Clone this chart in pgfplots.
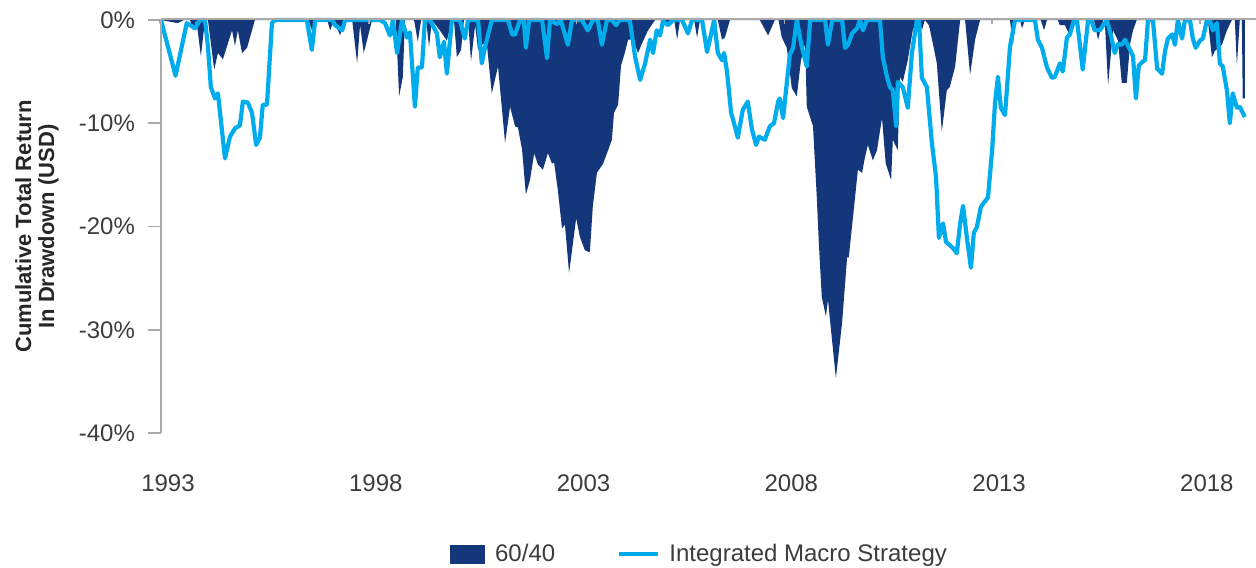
\documentclass[border=0pt]{standalone}
\usepackage{fontspec}
\setmainfont{Liberation Sans}
\usepackage{pgfplots}
\pgfplotsset{compat=1.18}
\definecolor{navy}{RGB}{20,54,122}
\definecolor{sky}{RGB}{0,172,236}
\definecolor{axgray}{RGB}{170,170,170}
\definecolor{txt}{RGB}{60,60,60}

\begin{document}
\begin{tikzpicture}
\path[use as bounding box] (-80.5pt,-67pt) rectangle (547.5pt,216.5pt);
\begin{axis}[
  at={(0pt,0pt)}, anchor=south west,
  scale only axis,
  width=547.5pt, height=206.5pt,
  xmin=1993, xmax=2019.35,
  ymin=-40, ymax=0,
  clip=false,
  axis line style={draw=none},
  xtick={1993,1998,2003,2008,2013,2018},
  xtick style={draw=none},
  ytick={-40,-30,-20,-10,0},
  ytick pos=left,
  tick align=outside,
  major tick length=6.5pt,
  ytick style={axgray, line width=0.8pt},
  /pgf/number format/assume math mode=true,
  /pgf/number format/1000 sep={},
  yticklabel={\pgfmathprintnumber{\tick}\%},
  tick label style={font=\fontsize{12}{14}\selectfont, text=txt},
  xticklabel style={anchor=center, yshift=-18.5pt, xshift=3.5pt},
  yticklabel style={xshift=-3pt},
  ylabel={Cumulative Total Return\\In Drawdown (USD)},
  ylabel style={at={(axis description cs:0,0.5)}, anchor=center, yshift=62pt, align=center, font=\bfseries\fontsize{11}{11.5}\selectfont, text=black!85},
  legend style={at={(0.4927,0)}, anchor=center, yshift=-60.5pt, draw=none, fill=none, font=\fontsize{12}{14}\selectfont, text=txt,
    /tikz/every even column/.append style={column sep=29pt}},
  legend columns=2,
]
\addplot[fill=navy, draw=none,
  legend image code/.code={\fill[navy] (0pt,-4.75pt) rectangle (17.5pt,4.75pt); \path (20.5pt,0pt);}] coordinates {
(1993.00,0) (1993.40,-0.3) (1993.55,0) (1993.70,0) (1993.77,-1.0) (1993.85,0) (1993.96,-3.5) (1994.06,0) (1994.13,0)
(1994.28,-4.8) (1994.37,-3.2) (1994.49,-3.8) (1994.71,-1.0) (1994.78,-2.5) (1994.85,-1.0) (1994.95,-3.2) (1995.07,-2.7) (1995.26,0)
(1996.55,0) (1996.63,-1.0) (1996.71,0) (1997.00,0) (1997.07,-1.0) (1997.16,0) (1997.31,-1.5) (1997.40,0)
(1997.60,0) (1997.72,-4.2) (1997.79,-0.5) (1997.88,-3.2) (1998.08,0) (1998.65,0) (1998.73,-7.4) (1998.82,-5.5) (1998.87,0)
(1999.09,0) (1999.18,-2.1) (1999.26,0) (1999.38,0) (1999.45,-2.6) (1999.52,0) (1999.71,-1.0) (1999.88,-2.0) (2000.00,0) (2000.05,0)
(2000.12,-3.6) (2000.22,-2.9) (2000.29,0) (2000.39,0) (2000.46,-4.0) (2000.56,-0.5) (2000.63,-2.9) (2000.75,-2.3) (2000.84,-2.3)
(2000.96,-7.1) (2001.11,-4.5) (2001.28,-11.9) (2001.40,-8.4) (2001.52,-10.3) (2001.59,-10.4) (2001.69,-12.6) (2001.78,-16.9)
(2001.88,-15.5) (2001.98,-12.9) (2002.07,-14.0) (2002.19,-14.5) (2002.31,-12.9) (2002.41,-13.9) (2002.46,-13.8) (2002.55,-16.5)
(2002.65,-20.2) (2002.72,-19.8) (2002.82,-24.5) (2002.99,-19.2) (2003.08,-21.0) (2003.20,-22.3) (2003.32,-22.5) (2003.39,-18.1)
(2003.49,-14.8) (2003.64,-13.9) (2003.76,-12.6) (2003.85,-11.6) (2003.90,-9.0) (2004.00,-8.2) (2004.07,-4.4) (2004.16,-3.2)
(2004.24,-1.9) (2004.36,-1.9) (2004.48,-3.2) (2004.57,-2.3) (2004.72,-1.0) (2004.89,0) (2005.05,0) (2005.13,-0.5) (2005.25,0)
(2005.35,0) (2005.42,-1.9) (2005.49,0) (2005.83,0) (2005.90,-1.7) (2005.97,0) (2006.40,0) (2006.50,-1.9) (2006.57,-1.7) (2006.69,0)
(2007.41,0) (2007.61,-1.5) (2007.77,0) (2007.86,0) (2007.94,-1.7) (2008.06,-2.7) (2008.18,-6.6) (2008.30,-7.4) (2008.40,-3.9)
(2008.50,-2.3) (2008.54,-8.4) (2008.69,-10.3) (2008.78,-17.1) (2008.83,-21.6) (2008.90,-26.8) (2009.00,-28.7) (2009.05,-27.1)
(2009.24,-34.7) (2009.39,-29.3) (2009.51,-23.0) (2009.55,-23.0) (2009.67,-18.4) (2009.77,-14.5) (2009.87,-14.8) (2009.94,-13.3)
(2010.01,-12.1) (2010.13,-13.6) (2010.23,-12.6) (2010.35,-9.5) (2010.44,-13.9) (2010.57,-15.5) (2010.61,-11.6) (2010.73,-12.6)
(2010.78,-5.5) (2010.85,-6.0) (2010.97,-3.9) (2011.09,-1.0) (2011.19,0) (2011.26,0) (2011.31,-1.0) (2011.38,0) (2011.48,-0.5)
(2011.58,-2.4) (2011.67,-4.2) (2011.79,-10.8) (2011.91,-6.8) (2011.98,-6.5) (2012.11,-4.5) (2012.23,0) (2012.35,0) (2012.47,-5.3)
(2012.59,-1.9) (2012.71,0) (2013.43,0) (2013.50,-2.4) (2013.57,0) (2013.67,0) (2013.72,-0.8) (2013.79,0) (2014.17,0) (2014.25,-1.0)
(2014.32,0) (2014.58,0) (2014.63,-0.5) (2014.75,-0.5) (2014.87,-1.5) (2015.04,0) (2015.45,0) (2015.55,-1.9) (2015.67,0) (2015.71,0)
(2015.79,-6.3) (2015.91,-1.0) (2016.03,-2.0) (2016.12,-6.1) (2016.24,-6.1) (2016.32,-2.3) (2016.39,-1.0) (2016.48,0) (2018.19,0)
(2018.29,-3.6) (2018.36,-3.0) (2018.53,-2.4) (2018.65,-1.0) (2018.77,0) (2018.84,0) (2018.89,-4.4) (2018.96,0) (2019.01,0)
(2019.03,-7.6) (2019.08,-7.6) (2019.08,0)
};
\addlegendentry{60/40}
\addplot[sky, line width=2.1pt, line join=round, mark=none,
  legend image code/.code={\draw[sky, line width=2.1pt] (0pt,0pt) -- (19.5pt,0pt); \path (22pt,0pt);}] coordinates {
(1993.00,0) (1993.35,-5.4) (1993.62,-0.3) (1993.82,-0.8) (1993.94,0) (1994.06,0) (1994.13,-2.6) (1994.20,-6.5) (1994.30,-7.6)
(1994.37,-7.1) (1994.54,-13.4) (1994.66,-11.3) (1994.78,-10.5) (1994.90,-10.2) (1994.97,-7.9) (1995.09,-8.0) (1995.19,-9.0)
(1995.29,-12.1) (1995.38,-11.4) (1995.45,-8.2) (1995.55,-8.2) (1995.67,-0.3) (1995.74,0) (1996.51,0) (1996.63,-2.9) (1996.71,0)
(1997.12,0) (1997.19,-0.5) (1997.36,-1.0) (1997.43,0) (1998.27,0) (1998.39,-0.3) (1998.51,-1.5) (1998.58,0) (1998.68,-3.2)
(1998.80,0) (1998.92,-1.7) (1998.99,-1.2) (1999.11,-8.4) (1999.18,-4.6) (1999.28,-4.6) (1999.35,0) (1999.47,0) (1999.64,-1.3)
(1999.71,-3.6) (1999.81,-2.1) (1999.88,-5.2) (2000.00,0) (2000.19,0) (2000.31,-1.8) (2000.39,0) (2000.63,0) (2000.72,-4.2)
(2000.80,-2.6) (2000.96,0) (2001.35,0) (2001.45,-1.4) (2001.52,-1.4) (2001.64,0) (2001.73,0) (2001.78,-2.7) (2001.86,0)
(2002.17,0) (2002.29,-3.7) (2002.36,0) (2002.53,-0.4) (2002.62,0) (2002.79,-2.4) (2002.89,0) (2003.13,0) (2003.27,-1.0)
(2003.39,0) (2003.51,0) (2003.61,-2.4) (2003.73,0) (2003.85,0) (2003.95,-0.5) (2004.04,0) (2004.28,0) (2004.41,-3.6)
(2004.53,-5.8) (2004.65,-4.2) (2004.77,-1.9) (2004.84,-3.2) (2004.93,-1.0) (2005.01,-1.5) (2005.08,-0.1) (2005.20,-0.5)
(2005.32,0) (2005.54,0) (2005.68,-1.3) (2005.78,0) (2006.02,0) (2006.14,-3.1) (2006.23,-1.5) (2006.31,0) (2006.40,-3.2)
(2006.50,-3.9) (2006.55,-3.2) (2006.62,-5.0) (2006.72,-9.0) (2006.79,-10.0) (2006.88,-11.4) (2007.00,-8.7) (2007.12,-7.9)
(2007.22,-10.6) (2007.32,-12.1) (2007.39,-11.3) (2007.53,-11.6) (2007.65,-10.3) (2007.75,-10.0) (2007.85,-7.9) (2007.89,-7.6)
(2007.97,-9.5) (2008.13,-3.4) (2008.21,-2.7) (2008.30,0) (2008.42,-2.6) (2008.54,-4.5) (2008.62,0) (2008.98,0) (2009.05,-2.4)
(2009.15,0) (2009.39,0) (2009.46,-2.7) (2009.53,-2.4) (2009.63,-1.3) (2009.75,-0.8) (2009.82,0) (2009.89,-1.0) (2009.99,0)
(2010.30,0) (2010.37,-3.6) (2010.47,-5.5) (2010.54,-6.5) (2010.61,-6.8) (2010.69,-10.3) (2010.73,-6.0) (2010.85,-6.5)
(2010.97,-8.5) (2011.07,-3.2) (2011.19,0) (2011.24,0) (2011.31,-5.6) (2011.43,-6.5) (2011.55,-11.9) (2011.65,-15.2)
(2011.72,-21.1) (2011.82,-19.7) (2011.89,-21.5) (2011.98,-21.8) (2012.06,-22.1) (2012.15,-22.6) (2012.23,-19.7) (2012.30,-18.0)
(2012.39,-21.0) (2012.49,-24.0) (2012.56,-20.6) (2012.63,-20.1) (2012.73,-18.1) (2012.80,-17.7) (2012.90,-17.2) (2013.00,-12.6)
(2013.07,-8.0) (2013.14,-5.5) (2013.21,-8.5) (2013.31,-9.2) (2013.43,-2.6) (2013.55,0) (2014.03,0) (2014.10,-1.9) (2014.20,-2.7)
(2014.32,-4.6) (2014.44,-5.6) (2014.51,-5.5) (2014.63,-4.2) (2014.70,-5.0) (2014.80,-1.7) (2014.87,-1.4) (2014.97,0) (2015.04,0)
(2015.11,-2.3) (2015.18,-4.8) (2015.31,0) (2015.38,0) (2015.47,-1.0) (2015.59,-1.0) (2015.76,0) (2015.86,-1.5) (2015.95,-3.2)
(2016.03,-2.3) (2016.12,-2.4) (2016.20,-1.9) (2016.32,-2.9) (2016.39,-3.5) (2016.46,-7.6) (2016.53,-4.4) (2016.63,-4.0)
(2016.68,-3.9) (2016.75,0) (2016.87,0) (2016.97,-4.7) (2017.09,-5.2) (2017.16,-3.0) (2017.23,-1.8) (2017.33,-1.4) (2017.40,-2.4)
(2017.47,0) (2017.57,-1.8) (2017.64,0) (2017.76,0) (2017.83,-1.8) (2017.90,-2.7) (2018.00,-2.0) (2018.07,-1.8) (2018.17,0)
(2018.24,0) (2018.31,-1.0) (2018.41,-0.3) (2018.48,-4.2) (2018.55,-4.5) (2018.65,-6.8) (2018.72,-10.0) (2018.79,-7.1)
(2018.89,-8.5) (2018.96,-8.4) (2019.08,-9.4)
};
\addlegendentry{Integrated Macro Strategy}
\draw[axgray, line width=0.8pt] (axis cs:1993,-40) -- (axis cs:1993,0);
\draw[axgray, line width=0.8pt] (axis cs:1993,0.1) -- (axis cs:2019.35,0.1);
\draw[axgray, line width=0.8pt] (axis cs:1998,0) -- (axis cs:1998,-0.35);
\draw[axgray, line width=0.8pt] (axis cs:2003,0) -- (axis cs:2003,-0.35);
\draw[axgray, line width=0.8pt] (axis cs:2008,0) -- (axis cs:2008,-0.35);
\draw[axgray, line width=0.8pt] (axis cs:2013,0) -- (axis cs:2013,-0.35);
\draw[axgray, line width=0.8pt] (axis cs:2018,0) -- (axis cs:2018,-0.35);
\end{axis}
\end{tikzpicture}
\end{document}
